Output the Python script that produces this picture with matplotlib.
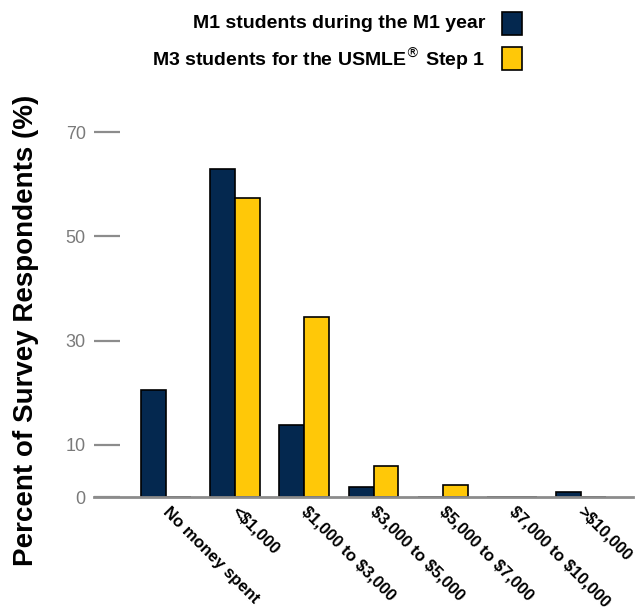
import matplotlib
matplotlib.use('Agg')
import matplotlib.pyplot as plt
import numpy as np
from matplotlib.patches import Rectangle

categories = ['No money spent', '<\\$1,000', '\\$1,000 to \\$3,000', '\\$3,000 to \\$5,000',
              '\\$5,000 to \\$7,000', '\\$7,000 to \\$10,000', '>\\$10,000']
m1_year = [20.5, 63.0, 13.8, 1.9, 0.0, 0.0, 1.0]
m3_step1 = [0.0, 57.4, 34.5, 5.9, 2.3, 0.0, 0.0]
yticks = [0, 10, 30, 50, 70]
series_names = ['M1 students during the M1 year', 'M3 students for the USMLE$^{®}$ Step 1']
navy = '#04284f'
gold = '#ffc808'

plt.rcParams['font.family'] = ['Liberation Sans', 'DejaVu Sans']

fig = plt.figure(figsize=(6.43, 6.08), dpi=100)
ax = fig.add_axes([94 / 643, 111 / 608, (633 - 94) / 643, 0.8 - 111 / 608])

x = np.arange(len(categories))
w = 0.36
ax.bar(x - w / 2, m1_year, w, color=navy, edgecolor='black', linewidth=1.2, zorder=2)
ax.bar(x + w / 2, m3_step1, w, color=gold, edgecolor='black', linewidth=1.2, zorder=2)

ax.set_xlim(-1.04, 6.75)
ax.set_ylim(0, 72)
for s in ['top', 'right', 'left']:
    ax.spines[s].set_visible(False)
ax.spines['bottom'].set_color('#8c8c8c')
ax.spines['bottom'].set_linewidth(2)
ax.spines['bottom'].set_zorder(3)

ax.set_yticks(yticks)
ax.set_yticklabels([str(t) for t in yticks], fontsize=13, color='#7a7a7a')
ax.tick_params(axis='y', direction='in', length=19, width=1.6, color='#8c8c8c', pad=6)

ax.set_xticks(x + 0.07)
ax.set_xticklabels(categories, rotation=-45, ha='left', va='top', rotation_mode='anchor',
                   fontweight='bold', fontsize=12)
ax.tick_params(axis='x', length=0, pad=5)

fig.text(26 / 643, 0.457, 'Percent of Survey Respondents (%)', rotation=90, ha='center', va='center',
         fontsize=20, fontweight='bold')

# legend drawn by hand in figure coords
colors = [navy, gold]
ys = [23.5, 58.5]
for name, c, yy in zip(series_names, colors, ys):
    fig.text(485 / 643, 1 - yy / 608, name, ha='right', va='center', fontsize=14, fontweight='bold')
    fig.patches.append(Rectangle((502 / 643, 1 - (yy + 11.5) / 608), 20 / 643, 23 / 608,
                                 transform=fig.transFigure, facecolor=c, edgecolor='black', linewidth=1.2))

plt.savefig('out.png', dpi=100)
